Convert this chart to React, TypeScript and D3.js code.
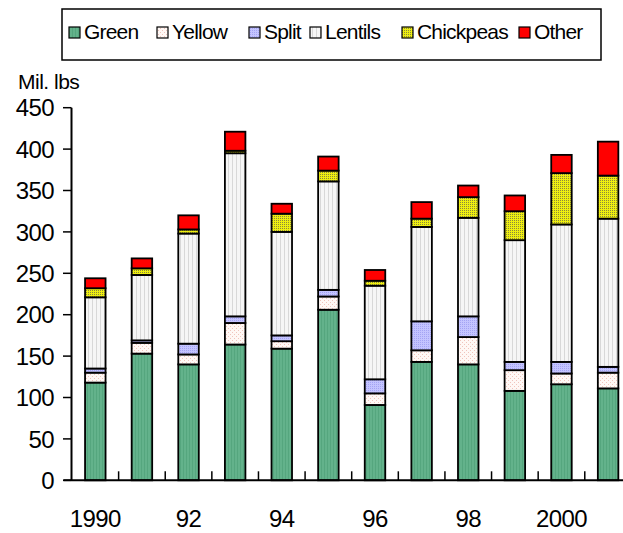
import * as d3 from 'd3';

const years = [1990, 1991, 1992, 1993, 1994, 1995, 1996, 1997, 1998, 1999, 2000, 2001];
const yearLabels = ['1990', '', '92', '', '94', '', '96', '', '98', '', '2000', ''];
const seriesNames = ['Green', 'Yellow', 'Split', 'Lentils', 'Chickpeas', 'Other'];

const green = [118, 153, 140, 164, 159, 206, 91, 143, 140, 108, 116, 111];
const yellow = [12, 13, 12, 26, 9, 16, 14, 14, 33, 25, 13, 19];
const split = [5, 3, 13, 8, 7, 8, 17, 35, 25, 10, 14, 7];
const lentils = [86, 79, 133, 197, 125, 131, 113, 114, 119, 147, 166, 179];
const chickpeas = [11, 8, 5, 3, 22, 13, 6, 10, 25, 35, 62, 52];
const other = [12, 12, 17, 23, 12, 17, 13, 20, 14, 19, 22, 41];

const yTicks = [0, 50, 100, 150, 200, 250, 300, 350, 400, 450];

// legend swatch positions (px), one per series
const legendX = [69, 157, 249, 310, 402, 519];

const W = 623;
const H = 533;
const FONT = '"Liberation Sans", Arial, sans-serif';

export default function App() {
  const rows = years.map((y, i) => ({
    year: y,
    Green: green[i],
    Yellow: yellow[i],
    Split: split[i],
    Lentils: lentils[i],
    Chickpeas: chickpeas[i],
    Other: other[i],
  }));
  const stacked = d3.stack<any>().keys(seriesNames)(rows);

  const x = d3.scaleBand<number>().domain(years).range([72, 631.4]).paddingInner(0);
  const y = d3.scaleLinear().domain([0, 450]).range([480.3, 107.7]);
  const barW = 20.5;
  const x0 = 71.5;
  const yBase = y(0);

  return (
    <svg width={W} height={H} style={{ position: 'absolute', left: 0, top: 0, background: '#fff' }}>
      <defs>
        <pattern id="p-Green" width="3" height="4" patternUnits="userSpaceOnUse">
          <rect width="3" height="4" fill="#63b28b" />
          <rect width="1" height="4" fill="#55a67e" />
        </pattern>
        <pattern id="p-Yellow" width="4" height="4" patternUnits="userSpaceOnUse">
          <rect width="4" height="4" fill="#fff8f5" />
          <rect x="0" y="0" width="1" height="1" fill="#f0c4bc" />
          <rect x="2" y="2" width="1" height="1" fill="#f0c4bc" />
        </pattern>
        <pattern id="p-Split" width="2" height="2" patternUnits="userSpaceOnUse">
          <rect width="2" height="2" fill="#c4c4ff" />
          <rect width="1" height="1" fill="#a4a4f4" />
        </pattern>
        <pattern id="p-Lentils" width="4" height="4" patternUnits="userSpaceOnUse">
          <rect width="4" height="4" fill="#f6f6f6" />
          <rect width="1" height="4" fill="#d8d8d8" />
        </pattern>
        <pattern id="p-Chickpeas" width="2" height="2" patternUnits="userSpaceOnUse">
          <rect width="2" height="2" fill="#eeee10" />
          <rect width="1" height="1" fill="#8a8a3a" />
        </pattern>
        <pattern id="p-Other" width="2" height="2" patternUnits="userSpaceOnUse">
          <rect width="2" height="2" fill="#ff0000" />
        </pattern>
      </defs>

      {/* legend */}
      <rect x={62} y={9} width={539} height={51} fill="#fff" stroke="#000" strokeWidth={1.5} />
      {seriesNames.map((name, i) => (
        <g key={name}>
          <rect x={legendX[i]} y={27} width={11} height={11} fill={`url(#p-${name})`} stroke="#000" strokeWidth={1.2} />
          <text x={legendX[i] + 15} y={39} fontFamily={FONT} fontSize={21} letterSpacing={-0.8} fill="#000">{name}</text>
        </g>
      ))}

      <text x={18} y={89} fontFamily={FONT} fontSize={21} letterSpacing={-0.5} fill="#000">Mil. lbs</text>

      {/* bars */}
      {stacked.map((s) => (
        <g key={s.key}>
          {s.map((d, i) => {
            const cx = (x(years[i]) as number) + x.bandwidth() / 2;
            return (
              <rect
                key={i}
                x={cx - barW / 2}
                y={y(d[1])}
                width={barW}
                height={y(d[0]) - y(d[1])}
                fill={`url(#p-${s.key})`}
                stroke="#000"
                strokeWidth={1.8}
              />
            );
          })}
        </g>
      ))}

      {/* y axis */}
      <line x1={x0} x2={x0} y1={y(450)} y2={yBase} stroke="#000" strokeWidth={2} />
      {yTicks.map((t) => (
        <g key={t}>
          <line x1={63} x2={x0} y1={y(t)} y2={y(t)} stroke="#000" strokeWidth={1.5} />
          <text x={54} y={y(t)} dy="0.36em" textAnchor="end" fontFamily={FONT} fontSize={24} letterSpacing={-0.6} fill="#000">{t}</text>
        </g>
      ))}

      {/* x axis */}
      <line x1={x0 - 8} x2={W} y1={yBase} y2={yBase} stroke="#000" strokeWidth={2} />
      {years.slice(1).map((yr) => (
        <line key={yr} x1={x(yr) as number} x2={x(yr) as number} y1={yBase} y2={yBase - 9} stroke="#000" strokeWidth={1.5} />
      ))}
      {years.map((yr, i) => (
        <text key={yr} x={(x(yr) as number) + x.bandwidth() / 2} y={527} textAnchor="middle" fontFamily={FONT} fontSize={24} letterSpacing={-0.6} fill="#000">
          {yearLabels[i]}
        </text>
      ))}
    </svg>
  );
}
